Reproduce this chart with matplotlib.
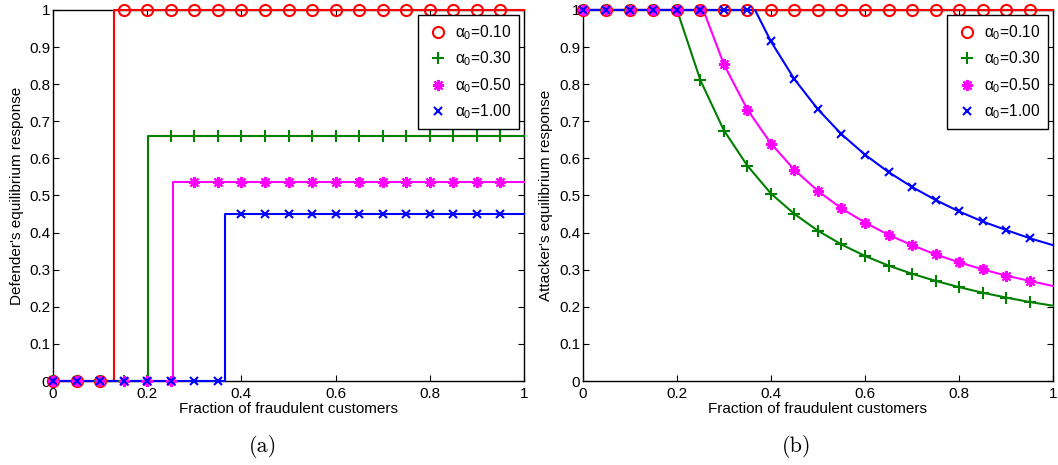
import numpy as np
import matplotlib
matplotlib.use("Agg")
import matplotlib.pyplot as plt

plt.rcParams["font.family"] = ["Liberation Sans", "DejaVu Sans"]
plt.rcParams["mathtext.fontset"] = "custom"
plt.rcParams["mathtext.rm"] = "Liberation Sans"
plt.rcParams["mathtext.it"] = "Liberation Sans"
plt.rcParams["mathtext.bf"] = "Liberation Sans:bold"

# ── data ─────────────────────────────────────────
alphas = ["0.10", "0.30", "0.50", "1.00"]
colors = ["#ff0000", "#008000", "#ff00ff", "#0000ff"]
markers = ["o", "+", (8, 2, 0), "x"]
msizes = [8, 8.5, 8, 6]

mk_x = [0, 0.05, 0.1, 0.15, 0.2, 0.25, 0.3, 0.35, 0.4, 0.45,
        0.5, 0.55, 0.6, 0.65, 0.7, 0.75, 0.8, 0.85, 0.9, 0.95]

# (a) defender: jump position and level after the jump
def_jump = [0.13, 0.201, 0.255, 0.366]
def_level = [1.0, 0.66, 0.535, 0.45]
def_mk_y = [
    [0, 0, 0] + [1.0] * 17,
    [0, 0, 0, 0, 0] + [0.66] * 15,
    [0, 0, 0, 0, 0, 0] + [0.535] * 14,
    [0, 0, 0, 0, 0, 0, 0, 0] + [0.45] * 12,
]

# (b) attacker: values at marker positions, kink where it leaves 1, value at x=1
att_mk_y = [
    [1.0] * 20,
    [1, 1, 1, 1, 1, 0.81, 0.675, 0.58, 0.505, 0.45,
     0.405, 0.368, 0.337, 0.311, 0.289, 0.27, 0.253, 0.238, 0.225, 0.213],
    [1, 1, 1, 1, 1, 1, 0.853, 0.731, 0.64, 0.569,
     0.512, 0.465, 0.427, 0.394, 0.366, 0.341, 0.32, 0.301, 0.284, 0.27],
    [1, 1, 1, 1, 1, 1, 1, 1, 0.915, 0.813,
     0.732, 0.665, 0.61, 0.563, 0.523, 0.488, 0.457, 0.43, 0.407, 0.385],
]
att_kink = [None, 0.2, 0.256, 0.366]
att_end = [1.0, 0.203, 0.256, 0.366]

xticks = [0, 0.2, 0.4, 0.6, 0.8, 1]
yticks = [0, 0.1, 0.2, 0.3, 0.4, 0.5, 0.6, 0.7, 0.8, 0.9, 1]


def fmt(v):
    return "0" if v == 0 else ("1" if v == 1 else f"{v:g}")


def style_axes(ax, ylabel):
    ax.set_xlim(0, 1)
    ax.set_ylim(0, 1)
    ax.set_xticks(xticks)
    ax.set_xticklabels([fmt(v) for v in xticks])
    ax.set_yticks(yticks)
    ax.set_yticklabels([fmt(v) for v in yticks])
    ax.tick_params(direction="in", top=True, right=True, length=4,
                   width=0.8, labelsize=11, pad=2)
    ax.tick_params(axis="x", pad=4)
    for sp in ax.spines.values():
        sp.set_linewidth(1.0)
    ax.set_xlabel("Fraction of fraudulent customers", fontsize=11, labelpad=1)
    ax.set_ylabel(ylabel, fontsize=11, labelpad=4)
    leg = ax.legend(loc="upper right", fontsize=11.2, numpoints=1,
                    fancybox=False, framealpha=1, edgecolor="black",
                    borderaxespad=0.35, labelspacing=0.5, handletextpad=0.35,
                    handlelength=1.5, borderpad=0.5)
    leg.get_frame().set_linewidth(1.0)


fig = plt.figure(figsize=(10.58, 4.65), dpi=100)
ax1 = fig.add_axes([0.0501, 0.1806, 0.4452, 0.798])
ax2 = fig.add_axes([0.5510, 0.1806, 0.4443, 0.798])

# ── (a) defender ──
for i in range(4):
    s, lv = def_jump[i], def_level[i]
    ax1.plot([0, s, s, 1], [0, 0, lv, lv], color=colors[i], lw=1.5,
             clip_on=False, zorder=3)
    ax1.plot(mk_x, def_mk_y[i], ls="none", marker=markers[i], ms=msizes[i],
             mec=colors[i], mfc="none", mew=1.5, color=colors[i],
             label=r"$\alpha_0$=" + alphas[i], clip_on=False, zorder=4)
style_axes(ax1, "Defender's equilibrium response")

# ── (b) attacker ──
for i in range(4):
    lx, ly = [], []
    for x, y in zip(mk_x, att_mk_y[i]):
        if att_kink[i] is not None and x > att_kink[i] and (not lx or lx[-1] < att_kink[i]):
            lx.append(att_kink[i])
            ly.append(1.0)
        lx.append(x)
        ly.append(y)
    lx.append(1.0)
    ly.append(att_end[i])
    ax2.plot(lx, ly, color=colors[i], lw=1.5, clip_on=False, zorder=3)
    ax2.plot(mk_x, att_mk_y[i], ls="none", marker=markers[i], ms=msizes[i],
             mec=colors[i], mfc="none", mew=1.5, color=colors[i],
             label=r"$\alpha_0$=" + alphas[i], clip_on=False, zorder=4)
style_axes(ax2, "Attacker's equilibrium response")

fig.text(263 / 1058, 1 - 446 / 465, "(a)", family="cmr10", fontsize=16,
         ha="center", va="center")
fig.text(797 / 1058, 1 - 446 / 465, "(b)", family="cmr10", fontsize=16,
         ha="center", va="center")

fig.savefig("out.png", dpi=100)
